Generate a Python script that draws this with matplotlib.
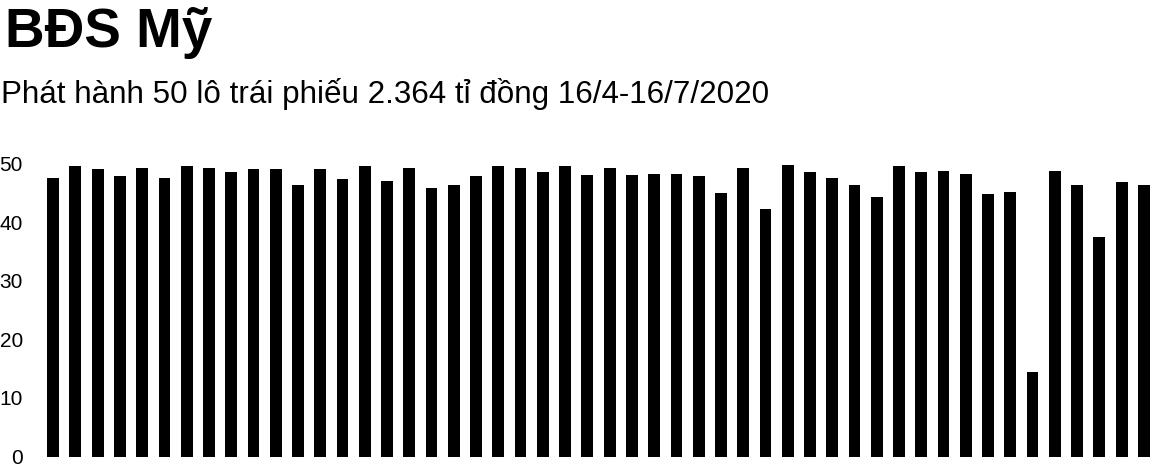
import matplotlib
matplotlib.use("Agg")
import matplotlib.pyplot as plt

plt.rcParams['font.family'] = ['Liberation Sans', 'DejaVu Sans']

# du lieu: gia tri tung lo trai phieu (ti dong), doc tu hinh
lots = list(range(1, 51))
values = [47.5, 49.5, 49.1, 47.9, 49.3, 47.5, 49.5, 49.3, 48.5, 49.1,
          49.1, 46.4, 49.1, 47.4, 49.5, 47.0, 49.2, 45.8, 46.4, 47.9,
          49.5, 49.2, 48.5, 49.5, 48.1, 49.2, 48.1, 48.2, 48.2, 47.9,
          45.0, 49.2, 42.2, 49.7, 48.5, 47.5, 46.4, 44.3, 49.5, 48.5,
          48.7, 48.2, 44.8, 45.1, 14.4, 48.7, 46.4, 37.5, 46.8, 46.4]
y_ticks = [0, 10, 20, 30, 40, 50]

title = "BĐS Mỹ"
subtitle = "Phát hành 50 lô trái phiếu 2.364 tỉ đồng 16/4-16/7/2020"

fig = plt.figure(figsize=(11.56, 4.74), dpi=100)
ax = fig.add_axes([42 / 1156, 17.5 / 474, 1113 / 1156, 293 / 474])

ax.bar(range(len(values)), values, width=0.53, color='black')
ax.set_xlim(-0.5, len(values) - 0.5)
ax.set_ylim(0, 50)
ax.set_yticks(y_ticks)
ax.set_xticks([])
ax.tick_params(axis='y', length=0, pad=13.7, labelsize=15)
for s in ax.spines.values():
    s.set_visible(False)

fig.text(5 / 1156, 1 - 47 / 474, title, fontsize=39.5, fontweight='bold', va='baseline', ha='left')
fig.text(1 / 1156, 1 - 102.5 / 474, subtitle, fontsize=22.6, va='baseline', ha='left')

fig.savefig("out.png", dpi=100)
